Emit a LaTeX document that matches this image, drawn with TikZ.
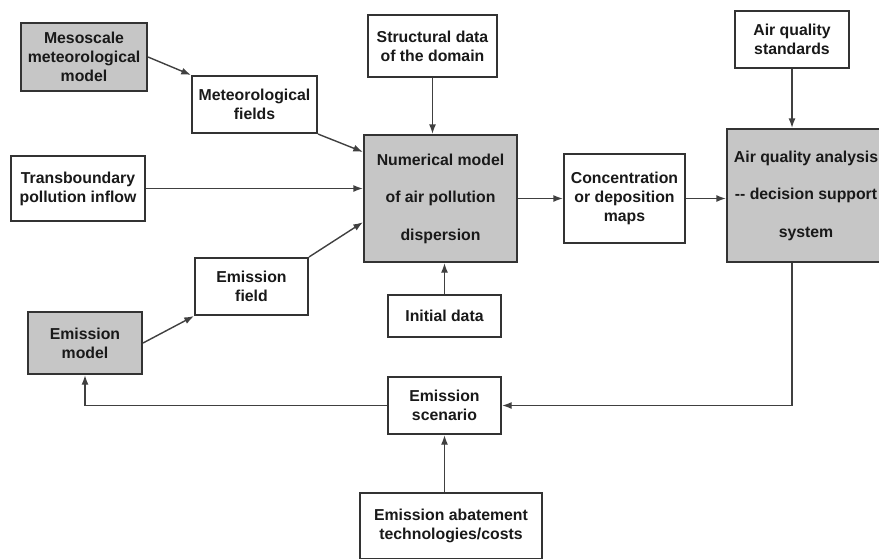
\documentclass[tikz,border=0pt]{standalone}
\usepackage{fontspec}
\setmainfont{Liberation Sans}
\usetikzlibrary{arrows.meta}
\newcommand{\boxfont}{\fontsize{9}{10.8}\selectfont\bfseries}
\newcommand{\tallfont}{\fontsize{9}{21.3}\selectfont\bfseries}

\begin{document}
\begin{tikzpicture}[x=0.02cm,y=-0.02cm,>={Latex[length=5.5pt,width=4pt]},line width=0.8pt]
\tikzstyle{blk}=[rectangle,draw=black!80,line width=1.2pt,fill=white,text=black!90,font=\boxfont,align=center,inner sep=0pt]
\tikzstyle{gblk}=[blk,fill=gray!45]
\tikzstyle{every edge}=[draw=black!75,->]
\useasboundingbox (0,0) rectangle (879,558);
\clip (0,0) rectangle (879,558);

\node[gblk,minimum width=2.52cm,minimum height=1.36cm](M) at (84,57) {Mesoscale\\meteorological\\model};
\node[blk,minimum width=2.5cm,minimum height=1.14cm](F) at (254.5,104.5) {Meteorological\\fields};
\node[blk,minimum width=2.68cm,minimum height=1.3cm](T) at (78,188.5) {Transboundary\\pollution inflow};
\node[blk,minimum width=2.58cm,minimum height=1.24cm](S) at (432.5,46) {Structural data\\of the domain};
\node[gblk,font=\tallfont,minimum width=3.06cm,minimum height=2.54cm](N) at (440.5,198.5) {Numerical model\\of air pollution\\dispersion};
\node[blk,minimum width=2.42cm,minimum height=1.78cm](C) at (624.5,198.5) {Concentration\\or deposition\\maps};
\node[blk,minimum width=2.28cm,minimum height=1.14cm](Q) at (792,39.5) {Air quality\\standards};
\node[gblk,font=\tallfont,minimum width=3.16cm,minimum height=2.66cm](A) at (806,195.5) {Air quality analysis\\{-}{-} decision support\\system};
\node[blk,minimum width=2.26cm,minimum height=1.14cm](R) at (251.5,286.5) {Emission\\field};
\node[blk,minimum width=2.26cm,minimum height=0.84cm](I) at (444.5,316) {Initial data};
\node[gblk,minimum width=2.28cm,minimum height=1.24cm](D) at (85,343) {Emission\\model};
\node[blk,minimum width=2.26cm,minimum height=1.14cm](E) at (444.5,405.5) {Emission\\scenario};
\node[blk,minimum width=3.64cm,minimum height=1.32cm](B) at (451,526) {Emission abatement\\technologies/costs};

\path (M.east) edge (F.north west) % inputs of the model
      (F.south east) edge (N.149)
      (T.east) edge (T.east -| N.west)
      (R.north east) edge (N.197)
      (D.east) edge (R.south west)
      (S.south) edge (S.south |- N.north)
      (I.north) edge (I.north |- N.south);

\path (N.east) edge (N.east -| C.west) % outputs
      (C.east) edge (C.east -| A.west)
      (Q.south) edge (Q.south |- A.north)
      (E.south |- B.north) edge (E.south);

\draw[->,black!75] (A.south -| Q.south) |- (E.east); % feedback loop
\draw[->,black!75] (E.west) -| (D.south);

\end{tikzpicture}
\end{document}
